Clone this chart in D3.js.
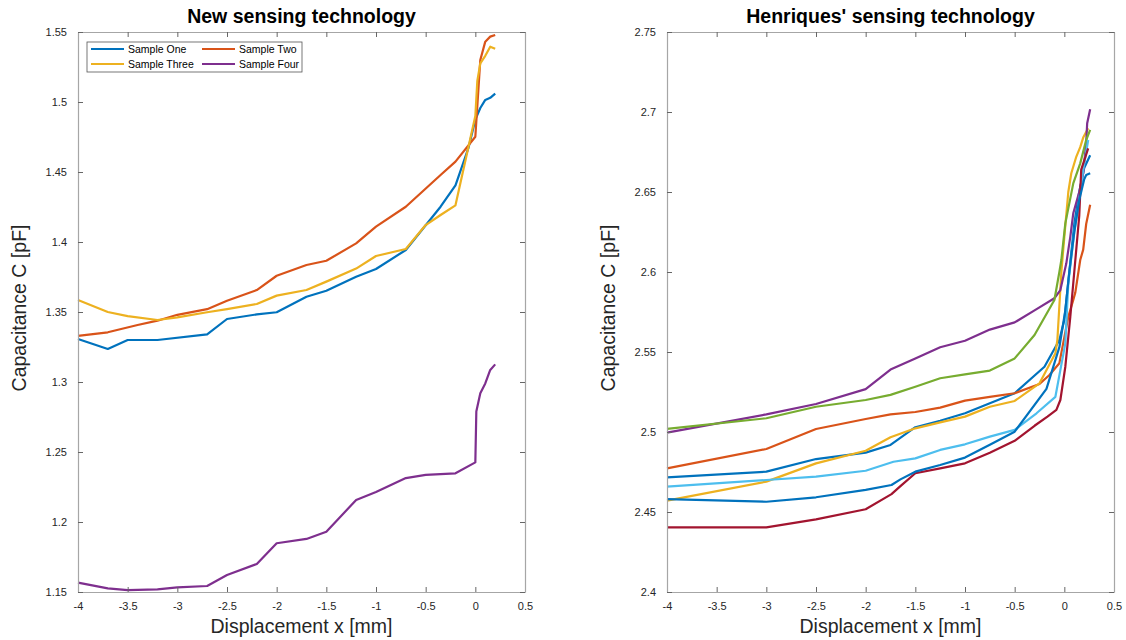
<!DOCTYPE html>
<html>
<head>
<meta charset="utf-8">
<script src="https://cdn.jsdelivr.net/npm/d3@7"></script>
<style>
  html, body { margin: 0; padding: 0; background: #fff; }
  svg { display: block; font-family: Arial, "Liberation Sans", Helvetica, sans-serif; }
</style>
</head>
<body>
<svg id="chart" width="1126" height="640"></svg>
<script>
// ---- Data: new sensing technology (four samples) ----
const sampleNames = ["Sample One", "Sample Two", "Sample Three", "Sample Four"];

const oneX = [-4, -3.7, -3.5, -3.2, -2.7, -2.5, -2.2, -2, -1.7, -1.5, -1.2, -1, -0.7, -0.35, -0.2, -0.07, 0, 0.05, 0.1, 0.15, 0.2];
const oneY = [1.3307, 1.3236, 1.330, 1.330, 1.334, 1.345, 1.3483, 1.3498, 1.3609, 1.3652, 1.3752, 1.3807, 1.3943, 1.4252, 1.4405, 1.467, 1.4874, 1.4957, 1.5015, 1.503, 1.506];

const twoX = [-4, -3.7, -3.4, -3.2, -3, -2.7, -2.5, -2.2, -2, -1.7, -1.5, -1.2, -1, -0.7, -0.35, -0.2, 0, 0.05, 0.1, 0.15, 0.2];
const twoY = [1.333, 1.3355, 1.3407, 1.3438, 1.348, 1.352, 1.358, 1.3657, 1.3759, 1.3836, 1.3866, 1.399, 1.411, 1.4252, 1.4479, 1.4574, 1.4752, 1.530, 1.5431, 1.5467, 1.5479];

const threeX = [-4, -3.7, -3.5, -3.2, -3, -2.7, -2.5, -2.2, -2, -1.7, -1.5, -1.2, -1, -0.7, -0.5, -0.35, -0.2, 0, 0.02, 0.05, 0.1, 0.15, 0.2];
const threeY = [1.3586, 1.350, 1.3471, 1.3443, 1.3462, 1.3498, 1.352, 1.3557, 1.3617, 1.3657, 1.3717, 1.381, 1.390, 1.395, 1.4121, 1.4193, 1.4262, 1.490, 1.515, 1.5276, 1.533, 1.5395, 1.538];

const fourX = [-4, -3.7, -3.5, -3.2, -3, -2.7, -2.5, -2.2, -2, -1.7, -1.5, -1.2, -1, -0.7, -0.5, -0.2, 0, 0.01, 0.05, 0.1, 0.15, 0.2];
const fourY = [1.1567, 1.1526, 1.1514, 1.1519, 1.1533, 1.1543, 1.1621, 1.170, 1.1848, 1.1879, 1.1931, 1.2157, 1.2214, 1.2314, 1.2336, 1.2348, 1.2426, 1.279, 1.292, 1.299, 1.3086, 1.3126];

// ---- Data: Henriques' sensing technology (eight runs) ----
const runAX = [-4, -3, -2.5, -2, -1.75, -1.5, -1.25, -1, -0.75, -0.5, -0.2, -0.05, 0, 0.05, 0.1, 0.15, 0.2, 0.26];
const runAY = [2.4717, 2.4752, 2.4831, 2.4871, 2.4919, 2.503, 2.507, 2.5117, 2.518, 2.5242, 2.5408, 2.5575, 2.570, 2.600, 2.630, 2.650, 2.665, 2.673];

const runBX = [-4, -3, -2.5, -2, -1.75, -1.5, -1.25, -1, -0.75, -0.5, -0.25, -0.15, -0.05, 0.04, 0.09, 0.11, 0.16, 0.19, 0.22, 0.26];
const runBY = [2.4773, 2.4894, 2.5019, 2.5081, 2.511, 2.5125, 2.5152, 2.5196, 2.522, 2.5242, 2.530, 2.5356, 2.543, 2.572, 2.5825, 2.587, 2.6075, 2.614, 2.630, 2.642];

const runCX = [-4, -3, -2.5, -2, -1.75, -1.5, -1.25, -1, -0.75, -0.5, -0.25, -0.09, -0.07, -0.03, 0, 0.04, 0.07, 0.12, 0.16, 0.19, 0.24];
const runCY = [2.4571, 2.469, 2.4804, 2.4883, 2.4967, 2.5023, 2.506, 2.5096, 2.5158, 2.5194, 2.5304, 2.5492, 2.5575, 2.600, 2.622, 2.650, 2.6617, 2.672, 2.678, 2.684, 2.6898];

const runDX = [-4, -3, -2.5, -2, -1.75, -1.5, -1.25, -1, -0.75, -0.5, -0.3, -0.1, -0.04, 0.02, 0.06, 0.09, 0.15, 0.19, 0.22, 0.23, 0.26];
const runDY = [2.4996, 2.511, 2.5175, 2.5268, 2.539, 2.546, 2.553, 2.557, 2.564, 2.5685, 2.576, 2.5836, 2.5887, 2.6054, 2.622, 2.6367, 2.650, 2.6617, 2.6806, 2.693, 2.7017];

const runEX = [-4, -3, -2.5, -2, -1.75, -1.5, -1.25, -1, -0.75, -0.5, -0.3, -0.1, -0.05, -0.03, 0.01, 0.09, 0.16, 0.22, 0.26];
const runEY = [2.5019, 2.5086, 2.5158, 2.520, 2.5232, 2.5283, 2.5336, 2.536, 2.5384, 2.546, 2.5606, 2.5825, 2.600, 2.6075, 2.6304, 2.6554, 2.6679, 2.6825, 2.6888];

const runFX = [-4, -3, -2.5, -2, -1.72, -1.5, -1.25, -1, -0.75, -0.5, -0.28, -0.09, 0.01, 0.04, 0.1, 0.15, 0.19, 0.24];
const runFY = [2.4658, 2.470, 2.4721, 2.4758, 2.4814, 2.4835, 2.4888, 2.4923, 2.4971, 2.5013, 2.5117, 2.522, 2.5554, 2.593, 2.625, 2.645, 2.6638, 2.6825];

const runGX = [-4, -3, -2.5, -2, -1.74, -1.65, -1.5, -1.25, -1, -0.75, -0.5, -0.3, -0.17, -0.08, -0.04, 0.01, 0.06, 0.1, 0.15, 0.17, 0.24];
const runGY = [2.4404, 2.4404, 2.4454, 2.4517, 2.4612, 2.4662, 2.4742, 2.4773, 2.4804, 2.487, 2.4945, 2.5039, 2.5096, 2.5138, 2.520, 2.5408, 2.572, 2.600, 2.635, 2.664, 2.6773];

const runHX = [-4, -3, -2.5, -2, -1.74, -1.65, -1.5, -1.25, -1, -0.75, -0.5, -0.18, -0.05, 0.01, 0.05, 0.1, 0.15, 0.2, 0.22, 0.26];
const runHY = [2.4581, 2.4564, 2.4592, 2.4638, 2.4669, 2.4704, 2.4752, 2.4794, 2.484, 2.492, 2.5002, 2.527, 2.553, 2.576, 2.600, 2.625, 2.645, 2.658, 2.6606, 2.6617];

// ---- Axis ticks ----
const xTicks = [-4, -3.5, -3, -2.5, -2, -1.5, -1, -0.5, 0, 0.5];
const leftYTicks = [1.15, 1.2, 1.25, 1.3, 1.35, 1.4, 1.45, 1.5, 1.55];
const rightYTicks = [2.4, 2.45, 2.5, 2.55, 2.6, 2.65, 2.7, 2.75];

// MATLAB default color order
const palette = ["#0072BD", "#D95319", "#EDB120", "#7E2F8E", "#77AC30", "#4DBEEE", "#A2142F"];

const leftSeries = [
  { name: sampleNames[0], xs: oneX, ys: oneY, color: palette[0] },
  { name: sampleNames[1], xs: twoX, ys: twoY, color: palette[1] },
  { name: sampleNames[2], xs: threeX, ys: threeY, color: palette[2] },
  { name: sampleNames[3], xs: fourX, ys: fourY, color: palette[3] }
];
const rightSeries = [
  { xs: runAX, ys: runAY, color: palette[0] },
  { xs: runBX, ys: runBY, color: palette[1] },
  { xs: runCX, ys: runCY, color: palette[2] },
  { xs: runDX, ys: runDY, color: palette[3] },
  { xs: runEX, ys: runEY, color: palette[4] },
  { xs: runFX, ys: runFY, color: palette[5] },
  { xs: runGX, ys: runGY, color: palette[6] },
  { xs: runHX, ys: runHY, color: palette[0] }
];

const svg = d3.select("#chart");
const axisColor = "#a6a6a6";
const textColor = "#262626";

function drawPanel(opts) {
  const { left, top, width, height, yDomain, yTicks, title, series } = opts;
  const x = d3.scaleLinear().domain([-4, 0.5]).range([left, left + width]);
  const y = d3.scaleLinear().domain(yDomain).range([top + height, top]);
  const g = svg.append("g");

  // data lines
  const line = d3.line().x(d => x(d[0])).y(d => y(d[1]));
  series.forEach(s => {
    g.append("path")
      .datum(s.xs.map((v, i) => [v, s.ys[i]]))
      .attr("d", line)
      .attr("fill", "none")
      .attr("stroke", s.color)
      .attr("stroke-width", 2.2)
      .attr("stroke-linejoin", "round");
  });

  // axes with inward ticks on all four sides
  const fmt = d => String(+d.toFixed(2));
  const bottom = g.append("g").attr("transform", `translate(0,${top + height})`)
    .call(d3.axisBottom(x).tickValues(xTicks).tickSizeInner(-5).tickSizeOuter(0).tickPadding(10).tickFormat(fmt));
  const topAx = g.append("g").attr("transform", `translate(0,${top})`)
    .call(d3.axisTop(x).tickValues(xTicks).tickSizeInner(-5).tickSizeOuter(0).tickFormat(""));
  const leftAx = g.append("g").attr("transform", `translate(${left},0)`)
    .call(d3.axisLeft(y).tickValues(yTicks).tickSizeInner(-5).tickSizeOuter(0).tickPadding(11).tickFormat(fmt));
  const rightAx = g.append("g").attr("transform", `translate(${left + width},0)`)
    .call(d3.axisRight(y).tickValues(yTicks).tickSizeInner(-5).tickSizeOuter(0).tickFormat(""));
  [bottom, topAx, leftAx, rightAx].forEach(a => {
    a.select(".domain").attr("stroke", axisColor).attr("stroke-width", 1.2);
    a.selectAll(".tick line").attr("stroke", "#666").attr("stroke-width", 1);
    a.selectAll("text").attr("fill", textColor).style("font-size", "11px")
      .style("font-family", "Arial, 'Liberation Sans', sans-serif");
  });

  // title and axis labels
  g.append("text").attr("x", left + width / 2).attr("y", top - 9)
    .attr("text-anchor", "middle").attr("font-weight", "bold").attr("font-size", 19.5)
    .attr("fill", "#000").text(title);
  g.append("text").attr("x", left + width / 2).attr("y", top + height + 41)
    .attr("text-anchor", "middle").attr("font-size", 19.5).attr("fill", textColor)
    .text("Displacement x [mm]");
  g.append("text")
    .attr("transform", `translate(${left - 52},${top + height / 2 - 4}) rotate(-90)`)
    .attr("text-anchor", "middle").attr("font-size", 19.5).attr("fill", textColor)
    .text("Capacitance C [pF]");

  return { g, x, y };
}

const leftPanel = drawPanel({
  left: 78, top: 32, width: 447, height: 560,
  yDomain: [1.15, 1.55], yTicks: leftYTicks,
  title: "New sensing technology", series: leftSeries
});

drawPanel({
  left: 667, top: 32, width: 447, height: 560,
  yDomain: [2.4, 2.75], yTicks: rightYTicks,
  title: "Henriques' sensing technology", series: rightSeries
});

// legend for the four samples (two columns)
const lg = leftPanel.g.append("g").attr("transform", "translate(87,42)");
lg.append("rect").attr("width", 215).attr("height", 30)
  .attr("fill", "#fff").attr("stroke", "#555").attr("stroke-width", 0.8);
leftSeries.forEach((s, i) => {
  const col = i % 2, row = Math.floor(i / 2);
  const ox = 4 + col * 111, oy = 7 + row * 15;
  lg.append("line").attr("x1", ox).attr("x2", ox + 33).attr("y1", oy).attr("y2", oy)
    .attr("stroke", s.color).attr("stroke-width", 2.2);
  lg.append("text").attr("x", ox + 37).attr("y", oy + 3.8)
    .attr("font-size", 10.5).attr("fill", "#000").text(s.name);
});
</script>
</body>
</html>
